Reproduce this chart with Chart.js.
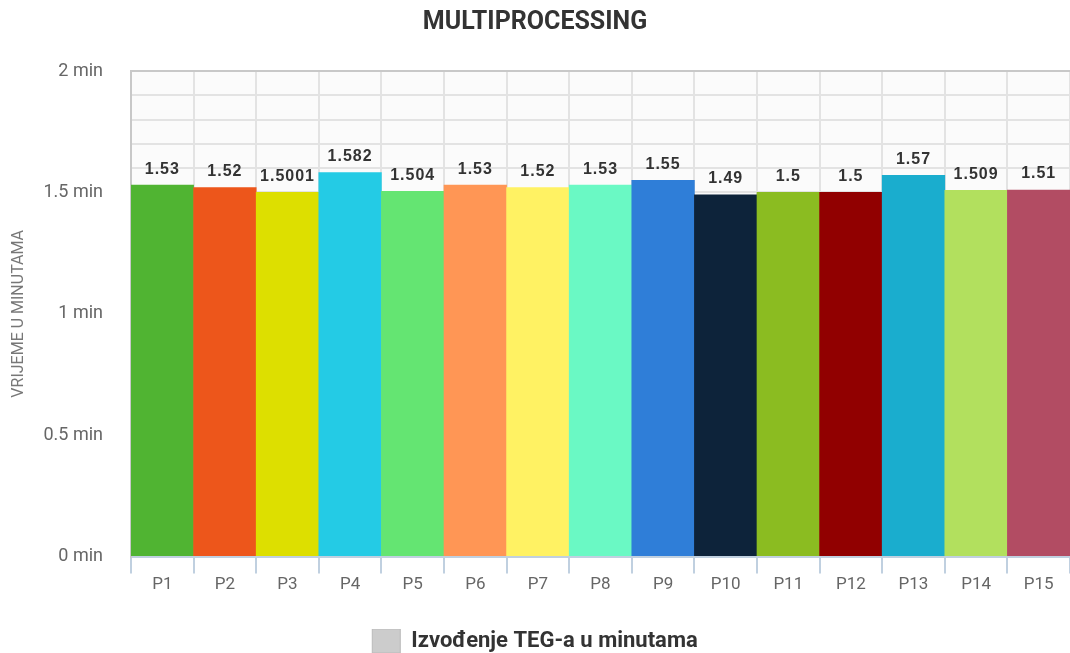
<!DOCTYPE html>
<html>
<head>
<meta charset="utf-8">
<script src="https://cdn.jsdelivr.net/npm/chart.js@4"></script>
<style>
  html, body { margin: 0; padding: 0; background: #fff; }
  #wrap { width: 1070px; height: 653px; }
</style>
</head>
<body>
<div id="wrap"><canvas id="chart1"></canvas></div>
<script>
// data
var labels = ["P1", "P2", "P3", "P4", "P5", "P6", "P7", "P8", "P9", "P10", "P11", "P12", "P13", "P14", "P15"]
var minutes = [1.53, 1.52, 1.5001, 1.582, 1.504, 1.53, 1.52, 1.53, 1.55, 1.49, 1.5, 1.5, 1.57, 1.509, 1.51]
var barColors = ["#50b432", "#ed561b", "#dddf00", "#24cbe5", "#64e572", "#ff9655", "#fff263", "#6af9c4",
                 "#2f7ed8", "#0d233a", "#8bbc21", "#910000", "#1aadce", "#b2e05e", "#b24c63"]
var yTicks = [0, 0.5, 1, 1.5, 2]

// light plot background
var plotBg = {
  id: "plotBg",
  beforeDraw: function (chart) {
    var a = chart.chartArea, ctx = chart.ctx
    ctx.save()
    ctx.fillStyle = "#fbfbfb"
    ctx.fillRect(a.left, a.top, a.right - a.left, a.bottom - a.top)
    ctx.restore()
  }
}

// value labels above the bars
var valueLabels = {
  id: "valueLabels",
  afterDatasetsDraw: function (chart) {
    var ctx = chart.ctx
    var meta = chart.getDatasetMeta(0)
    ctx.save()
    ctx.font = "bold 16px 'Liberation Sans', Arial, sans-serif"
    ctx.fillStyle = "#333"
    ctx.textAlign = "center"
    ctx.textBaseline = "middle"
    if ("letterSpacing" in ctx) ctx.letterSpacing = "1px"
    meta.data.forEach(function (bar, i) {
      ctx.fillText(String(minutes[i]), bar.x, bar.y - 16)
    })
    ctx.restore()
  }
}

var c1 = document.getElementById("chart1").getContext("2d")
var timeChart = new Chart(c1, {
  type: "bar",
  data: {
    labels: labels,
    datasets: [{
      label: "Izvođenje TEG-a u minutama",
      data: minutes,
      backgroundColor: barColors,
      borderWidth: 0,
      barPercentage: 1,
      categoryPercentage: 1
    }]
  },
  options: {
    responsive: true,
    maintainAspectRatio: false,
    animation: false,
    layout: { padding: { left: 0, right: 0, top: 0, bottom: -10 } },
    plugins: {
      tooltip: { enabled: false },
      title: {
        display: true,
        text: "MULTIPROCESSING",
        color: "#333",
        font: { family: "Roboto", size: 25, weight: "bold" },
        padding: { top: 8, bottom: 33 }
      },
      legend: {
        position: "bottom",
        labels: {
          color: "#333",
          font: { family: "Roboto", size: 22, weight: "bold" },
          boxWidth: 28,
          boxHeight: 24,
          padding: 0,
          generateLabels: function () {
            return [{ text: "Izvođenje TEG-a u minutama", fillStyle: "#cccccc", strokeStyle: "#bbbbbb", lineWidth: 1, fontColor: "#333" }]
          }
        }
      }
    },
    scales: {
      x: {
        afterFit: function (scale) { scale.height += 33 },
        grid: {
          offset: true,
          color: "#e3e3e3",
          lineWidth: 2,
          tickLength: 17,
          tickColor: "#c0d0e0"
        },
        border: { color: "#c0d0e0", width: 2 },
        ticks: { color: "#666", font: { family: "Roboto", size: 17 }, padding: 1 }
      },
      y: {
        min: 0,
        max: 2,
        afterFit: function (scale) { scale.width = 131 },
        grid: {
          color: function (ctx) { return ctx.tick && ctx.tick.value === 2 ? "#c8c8c8" : "#e3e3e3" },
          lineWidth: 2,
          drawTicks: false
        },
        border: { color: "#c8c8c8", width: 2 },
        title: {
          display: true,
          text: "VRIJEME U MINUTAMA",
          color: "#777",
          font: { family: "Roboto", size: 16 },
          padding: { top: 9, bottom: 0 }
        },
        ticks: {
          stepSize: 0.1,
          autoSkip: false,
          padding: 28,
          color: "#666",
          font: { family: "Roboto", size: 18 },
          callback: function (value) {
            var hit = yTicks.find(function (t) { return Math.abs(t - value) < 1e-6 })
            return hit === undefined ? "" : hit + " min"
          }
        }
      }
    }
  },
  plugins: [plotBg, valueLabels]
})
</script>
</body>
</html>
